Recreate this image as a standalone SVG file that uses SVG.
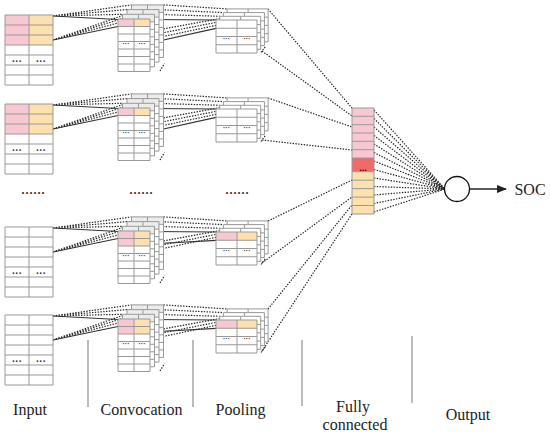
<svg xmlns="http://www.w3.org/2000/svg" xmlns:xlink="http://www.w3.org/1999/xlink" width="550" height="436" viewBox="0 0 550 436">
<style>
.g{stroke:#999;stroke-width:1;fill:none}
.w{fill:#fff}
.pk{fill:#F8C8D2}
.or{fill:#FCE0AE}
.gy{fill:#ececec}
.d{font-family:"Liberation Sans",Arial,sans-serif;text-anchor:middle;fill:#333;font-weight:bold}
.dot{stroke:#222;stroke-width:1.2;stroke-dasharray:1.4 1.4;fill:none}
.sol{stroke:#333;stroke-width:1.2;fill:none}
.lbl{font-family:"Liberation Serif","Times New Roman",serif;font-size:16px;fill:#222;text-anchor:middle}
.sep{stroke:#999;stroke-width:1.3}
</style>
<defs>
<marker id="ah" markerWidth="10" markerHeight="8" refX="9" refY="4" orient="auto" markerUnits="userSpaceOnUse">
<path d="M0,0 L10,4 L0,8 z" fill="#222"/>
</marker>
<path id="inGrid" class="g" d="M0,0H48V70H0zM0,10H48M0,20H48M0,30H48M0,40H48M0,50H48M0,60H48M24,0V70"/>
<path id="cGrid" class="g" d="M0,0H32V52.5H0zM0,7.5H32M0,15H32M0,22.5H32M0,30H32M0,37.5H32M0,45H32M16,0V52.5"/>
<path id="pGrid" class="g" d="M0,0H41V33H0zM0,8.25H41M0,16.5H41M0,24.75H41M21,0V33"/>
<g id="inC"><rect class="w" width="48" height="70"/><rect class="pk" width="24" height="30"/><rect class="or" x="24" width="24" height="30"/><use xlink:href="#inGrid"/><text class="d" font-size="10" x="12" y="49.5">···</text><text class="d" font-size="10" x="36" y="49.5">···</text></g>
<g id="inW"><rect class="w" width="48" height="70"/><use xlink:href="#inGrid"/><text class="d" font-size="10" x="12" y="49.5">···</text><text class="d" font-size="10" x="36" y="49.5">···</text></g>
<g id="cB"><rect class="w" width="32" height="52.5"/><rect class="gy" width="32" height="7.5"/><use xlink:href="#cGrid"/></g>
<g id="cF1"><rect class="w" width="32" height="52.5"/><rect class="pk" width="16" height="7.5"/><rect class="or" x="16" width="16" height="7.5"/><use xlink:href="#cGrid"/><text class="d" font-size="7" x="8" y="27">···</text><text class="d" font-size="7" x="24" y="27">···</text></g>
<g id="cF2"><rect class="w" width="32" height="52.5"/><rect class="pk" width="16" height="15"/><rect class="or" x="16" width="16" height="15"/><use xlink:href="#cGrid"/><text class="d" font-size="7" x="8" y="27">···</text><text class="d" font-size="7" x="24" y="27">···</text></g>
<g id="pB"><rect class="w" width="41" height="33"/><use xlink:href="#pGrid"/></g>
<g id="pF0"><rect class="w" width="41" height="33"/><use xlink:href="#pGrid"/><text class="d" font-size="7" x="10.5" y="21">···</text><text class="d" font-size="7" x="31" y="21">···</text></g>
<g id="pF1"><rect class="w" width="41" height="33"/><rect class="pk" width="21" height="8.25"/><rect class="or" x="21" width="20" height="8.25"/><use xlink:href="#pGrid"/><text class="d" font-size="7" x="10.5" y="21">···</text><text class="d" font-size="7" x="31" y="21">···</text></g>
<g id="cStackBack"><use xlink:href="#cB" x="13.5" y="-14.1"/><use xlink:href="#cB" x="9" y="-9.4"/><use xlink:href="#cB" x="4.5" y="-4.7"/></g>
<g id="pStackBack"><use xlink:href="#pB" x="11.1" y="-11.1"/><use xlink:href="#pB" x="7.4" y="-7.4"/><use xlink:href="#pB" x="3.7" y="-3.7"/></g>
<g id="linksIn">
<path class="sol" d="M53,1 L118,4.5 M53,25 L118,11.5"/>
<path class="dot" d="M53,1 L122.5,-0.7 M53,1 L127,-5.4 M53,1 L131.5,-10.1 M53,25 L122.5,6.8 M53,25 L127,2.1 M53,25 L131.5,-2.6"/>
<path class="dot" d="M154.5,-0.7 L219.7,1.3 M159,-5.4 L223.4,-2.4 M163.5,-10.1 L227.1,-6.1 M154.5,23.3 L219.7,9.6 M159,18.6 L223.4,5.9 M163.5,13.9 L227.1,2.2"/>
<path class="dot" d="M160,56 L164.5,48.5 M261,37.5 L265.5,31.5"/>
</g>
</defs>

<g id="connectors">
<use xlink:href="#linksIn" y="15"/>
<use xlink:href="#linksIn" y="104"/>
<use xlink:href="#linksIn" y="227"/>
<use xlink:href="#linksIn" y="315"/>
<path class="sol" d="M150,19.5 L216,20 M150,43 L216,28.3"/>
<path class="sol" d="M150,108.5 L216,109 M150,132 L216,117.3"/>
<path class="sol" d="M150,231.5 L216,232 M150,244 L216,240.3"/>
<path class="sol" d="M150,319.5 L216,320 M150,332 L216,328.3"/>
<path class="dot" d="M268,9 L352,108 M262,51 L352,116 M268,98 L352,127 M262,140 L352,150 M268,221 L352,180 M262,263 L352,197 M268,309 L352,205 M262,351 L352,214"/>
<path class="dot" d="M374,110 L445,189 M374,118.5 L445,189 M374,127 L445,189 M374,135.5 L445,189 M374,144 L445,189 M374,152.5 L445,189 M374,161 L445,189 M374,169.5 L445,189 M374,178 L445,189 M374,186.5 L445,189 M374,195 L445,189 M374,203.5 L445,189 M374,212 L445,189"/>
<line x1="470" y1="189" x2="506" y2="189" stroke="#222" stroke-width="1.3" marker-end="url(#ah)"/>
</g>

<g id="input1" transform="translate(5,15)"><use xlink:href="#inC"/></g>
<g id="input2" transform="translate(5,104)"><use xlink:href="#inC"/></g>
<g id="input3" transform="translate(5,227)"><use xlink:href="#inW"/></g>
<g id="input4" transform="translate(5,315)"><use xlink:href="#inW"/></g>

<g id="conv1" transform="translate(118,19)"><use xlink:href="#cStackBack"/><use xlink:href="#cF1"/></g>
<g id="conv2" transform="translate(118,108)"><use xlink:href="#cStackBack"/><use xlink:href="#cF1"/></g>
<g id="conv3" transform="translate(118,231)"><use xlink:href="#cStackBack"/><use xlink:href="#cF2"/></g>
<g id="conv4" transform="translate(118,319)"><use xlink:href="#cStackBack"/><use xlink:href="#cF2"/></g>

<g id="pool1" transform="translate(216,20)"><use xlink:href="#pStackBack"/><use xlink:href="#pF0"/></g>
<g id="pool2" transform="translate(216,109)"><use xlink:href="#pStackBack"/><use xlink:href="#pF0"/></g>
<g id="pool3" transform="translate(216,232)"><use xlink:href="#pStackBack"/><use xlink:href="#pF1"/></g>
<g id="pool4" transform="translate(216,320)"><use xlink:href="#pStackBack"/><use xlink:href="#pF1"/></g>

<g id="ellipses">
<text class="lbl" x="33" y="194" font-size="15">......</text>
<text class="lbl" x="141" y="194" font-size="15">......</text>
<text class="lbl" x="237" y="194" font-size="15">......</text>
</g>

<g id="fc">
<rect x="352" y="108" width="22" height="50" fill="#F8C8D2"/>
<rect x="352" y="158" width="22" height="13.7" fill="#F06A6A"/>
<rect x="352" y="171.7" width="22" height="42.3" fill="#FCE0AE"/>
<path class="g" d="M352,108H374V214H352zM352,116.3H374M352,124.7H374M352,133H374M352,141.3H374M352,149.7H374M352,158H374M352,171.7H374M352,180.2H374M352,188.6H374M352,197.1H374M352,205.5H374"/>
<text x="363" y="170.5" font-family="Liberation Sans, Arial, sans-serif" font-size="9" font-weight="bold" text-anchor="middle" fill="#111">...</text>
</g>

<g id="output">
<circle cx="457" cy="189" r="12.5" fill="#fff" stroke="#111" stroke-width="1.3"/>
<text class="lbl" x="530" y="195" >SOC</text>
</g>

<g id="labels">
<line class="sep" x1="88" y1="340" x2="88" y2="407"/>
<line class="sep" x1="193" y1="340" x2="193" y2="407"/>
<line class="sep" x1="302" y1="340" x2="302" y2="406"/>
<line class="sep" x1="412" y1="336" x2="412" y2="403"/>
<text class="lbl" x="30" y="415">Input</text>
<text class="lbl" x="141.5" y="415">Convocation</text>
<text class="lbl" x="240.5" y="415">Pooling</text>
<text class="lbl" x="353" y="412">Fully</text>
<text class="lbl" x="355" y="430">connected</text>
<text class="lbl" x="468" y="420">Output</text>
</g>
</svg>
